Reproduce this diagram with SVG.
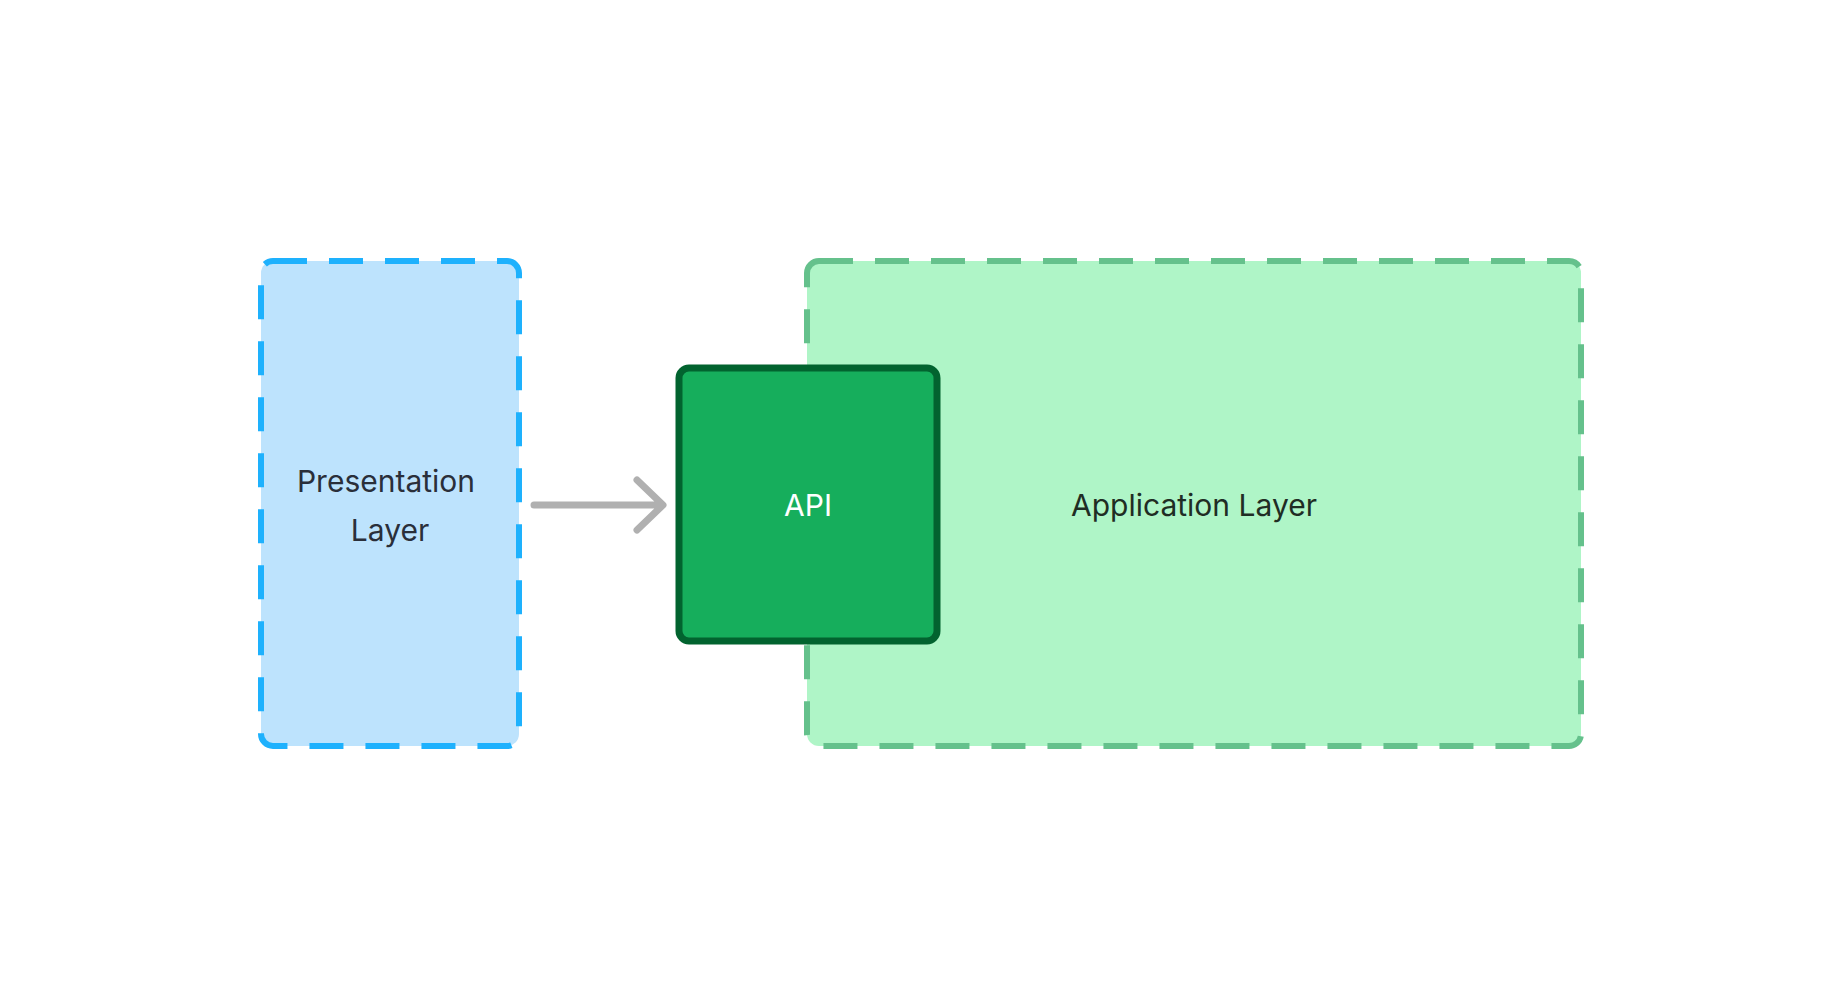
<svg xmlns="http://www.w3.org/2000/svg" width="1832" height="1002" viewBox="0 0 1832 1002">
<style>
text{font-family:Inter,"Noto Sans",sans-serif;font-size:30px;text-anchor:middle;dominant-baseline:central}
</style>
<rect width="1832" height="1002" fill="#fff"/>
<g id="presentation"><rect x="261" y="261" width="258" height="485" rx="12" fill="#bde3fd" stroke="#1eb1fd" stroke-width="6" stroke-dasharray="34 22"/>
<text x="386" y="481" fill="#2a2f3a">Presentation</text><text x="390" y="530" fill="#2a2f3a">Layer</text></g>
<g id="application"><rect x="807" y="261" width="774" height="485" rx="12" fill="#aff5c7" stroke="#65c18c" stroke-width="6" stroke-dasharray="34 22"/>
<text x="1194" y="505" fill="#1f2d24">Application Layer</text></g>
<g id="connectors"><path d="M534 505H662M637 480L663 505L637 530" fill="none" stroke="#b0b0b0" stroke-width="7" stroke-linecap="round" stroke-linejoin="round"/></g>
<g id="api"><rect x="679" y="368" width="258" height="273" rx="10" fill="#16ae5c" stroke="#02632f" stroke-width="7"/>
<text x="808" y="505" fill="#fff">API</text></g>
</svg>
